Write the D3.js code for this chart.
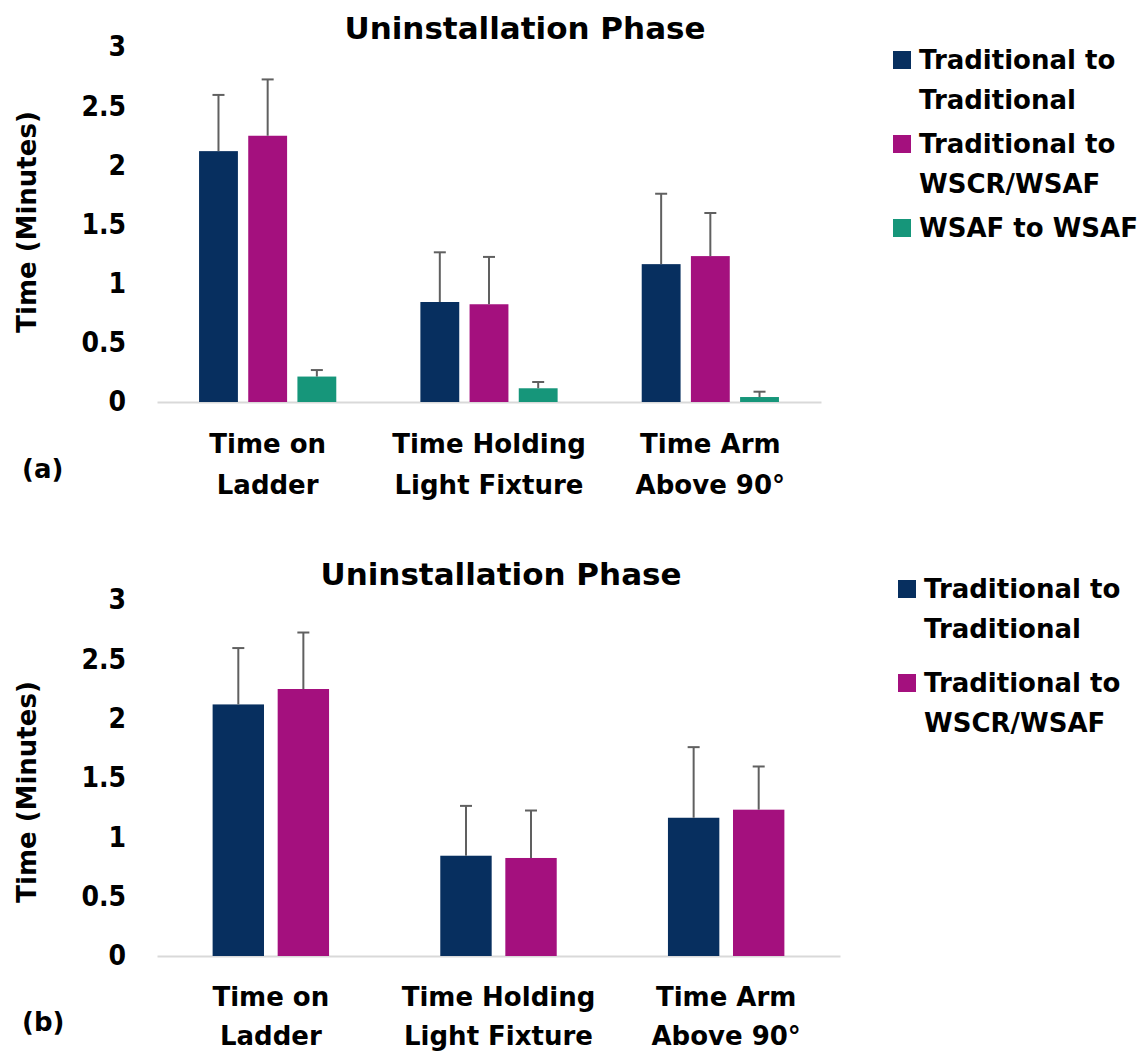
<!DOCTYPE html>
<html>
<head>
<meta charset="utf-8">
<title>Uninstallation Phase</title>
<script src="https://d3js.org/d3.v7.min.js"></script>
<style>
    body { margin: 0; background: #fff; }
    svg { display: block; font-family: "DejaVu Sans", sans-serif; font-weight: bold; }
    .tick text { font-family: "DejaVu Sans Condensed", "DejaVu Sans", sans-serif; }
</style>
</head>
<body>
<svg id="mainsvg" width="1141" height="1053"></svg>
<script>
// categories (two lines each) and series names
const categories = [["Time on", "Ladder"], ["Time Holding", "Light Fixture"], ["Time Arm", "Above 90\u00b0"]];
const seriesNames = [["Traditional to", "Traditional"], ["Traditional to", "WSCR/WSAF"], ["WSAF to WSAF"]];
const seriesColors = ["#072f5f", "#a4107e", "#16967a"];

// mean times (minutes) and +SD error
const tradToTrad = [2.12, 0.845, 1.165];
const tradToTradErr = [0.475, 0.42, 0.595];
const tradToWscr = [2.25, 0.826, 1.233];
const tradToWscrErr = [0.476, 0.40, 0.364];
const wsafToWsaf = [0.215, 0.116, 0.042];
const wsafToWsafErr = [0.055, 0.053, 0.045];

const yTicks = [0, 0.5, 1, 1.5, 2, 2.5, 3];
const panelTitle = "Uninstallation Phase";
const yTitle = "Time (Minutes)";

const allValues = [tradToTrad, tradToWscr, wsafToWsaf];
const allErrors = [tradToTradErr, tradToWscrErr, wsafToWsafErr];

const svg = d3.select('#mainsvg');

function drawPanel(p) {
    const nSeries = p.series;
    const rows = [];
    categories.forEach((c, ci) => {
        for (let s = 0; s < nSeries; s++) {
            rows.push({ cat: ci, s: s, v: allValues[s][ci], e: allErrors[s][ci] });
        }
    });

    const x = d3.scaleBand().domain(d3.range(categories.length)).range([p.x0, p.x1]);
    const xi = d3.scaleBand().domain(d3.range(nSeries)).range([0, x.bandwidth()])
        .paddingInner(0.21).paddingOuter(0.855);
    const y = d3.scaleLinear().domain([0, 3]).range([p.y0, p.y1]);

    const g = svg.append('g');

    // y axis
    const yAxis = d3.axisLeft(y).tickValues(yTicks).tickSize(0).tickPadding(31)
        .tickFormat(d3.format('~g'));
    const ya = g.append('g').attr('transform', `translate(${p.x0},0)`).call(yAxis);
    ya.select('.domain').remove();
    ya.selectAll('text').attr('font-size', 28).attr('fill', '#000');

    // x axis line
    const xAxis = d3.axisBottom(x).tickSize(0).tickFormat('');
    const xa = g.append('g').attr('transform', `translate(0,${p.y0})`).call(xAxis);
    xa.select('.domain').attr('stroke', '#d9d9d9').attr('stroke-width', 2);

    // bars
    g.selectAll('rect.bar').data(rows).join('rect')
        .attr('class', 'bar')
        .attr('x', d => x(d.cat) + xi(d.s))
        .attr('width', xi.bandwidth())
        .attr('y', d => y(d.v))
        .attr('height', d => y(0) - y(d.v))
        .attr('fill', d => seriesColors[d.s]);

    // error bars
    const eg = g.selectAll('g.err').data(rows).join('g').attr('class', 'err')
        .attr('stroke', '#606060').attr('stroke-width', 2);
    eg.append('line')
        .attr('x1', d => x(d.cat) + xi(d.s) + xi.bandwidth() / 2)
        .attr('x2', d => x(d.cat) + xi(d.s) + xi.bandwidth() / 2)
        .attr('y1', d => y(d.v))
        .attr('y2', d => y(d.v + d.e));
    eg.append('line')
        .attr('x1', d => x(d.cat) + xi(d.s) + xi.bandwidth() / 2 - 6)
        .attr('x2', d => x(d.cat) + xi(d.s) + xi.bandwidth() / 2 + 6)
        .attr('y1', d => y(d.v + d.e))
        .attr('y2', d => y(d.v + d.e));

    // category labels
    const cl = g.selectAll('text.cat').data(categories).join('text')
        .attr('class', 'cat')
        .attr('text-anchor', 'middle')
        .attr('font-size', 26)
        .attr('y', p.catY);
    cl.selectAll('tspan').data((d, i) => d.map(t => ({ t, i }))).join('tspan')
        .attr('x', d => x(d.i) + x.bandwidth() / 2)
        .attr('dy', (d, j) => j === 0 ? 0 : p.catGap)
        .text(d => d.t);

    // title
    g.append('text').attr('x', p.titleX).attr('y', p.titleY)
        .attr('text-anchor', 'middle').attr('font-size', 31).text(panelTitle);

    // y title
    g.append('text')
        .attr('transform', `translate(36,${p.yTitleY}) rotate(-90)`)
        .attr('text-anchor', 'middle').attr('font-size', 26).text(yTitle);

    // panel tag
    g.append('text').attr('x', 22).attr('y', p.tagY).attr('font-size', 26).text(p.tag);

    // legend
    const lg = g.append('g');
    for (let s = 0; s < nSeries; s++) {
        const top = p.legY + s * p.legStep;
        lg.append('rect').attr('x', p.legX).attr('y', top)
            .attr('width', 18).attr('height', 18).attr('fill', seriesColors[s]);
        const t = lg.append('text').attr('y', top + 18).attr('font-size', 26);
        seriesNames[s].forEach((line, j) => {
            t.append('tspan').attr('x', p.legX + 26).attr('dy', j === 0 ? 0 : 40).text(line);
        });
    }
}

drawPanel({
    series: 3, x0: 157, x1: 821, y0: 402, y1: 47,
    catY: 453, catGap: 41, titleX: 525, titleY: 39, yTitleY: 222, tag: '(a)', tagY: 478,
    legX: 893, legY: 51, legStep: 84
});

drawPanel({
    series: 2, x0: 157, x1: 840, y0: 956, y1: 600,
    catY: 1006, catGap: 39, titleX: 501, titleY: 585, yTitleY: 792, tag: '(b)', tagY: 1031,
    legX: 898, legY: 580, legStep: 94
});
</script>
</body>
</html>
